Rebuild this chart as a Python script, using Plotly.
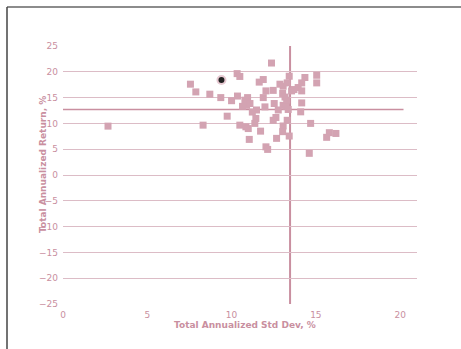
import plotly.graph_objects as go

# Risk (x) / return (y) pairs
std_dev = [12.37, 10.33, 10.49, 7.56, 7.88, 8.71, 9.36, 10.0, 10.35, 10.95, 10.79, 10.65,
           10.89, 11.09, 11.23, 9.74, 11.44, 11.38, 10.49, 10.85, 10.99, 11.05, 11.72,
           12.04, 12.14, 12.67, 11.64, 11.88, 11.88, 12.04, 12.47, 11.98, 12.53, 12.77,
           12.63, 12.47, 13.06, 13.03, 13.17, 13.06, 13.22, 13.3, 13.06, 13.03, 13.42,
           13.42, 13.56, 13.7, 13.95, 14.16, 14.35, 14.16, 14.16, 14.1, 15.05, 15.05,
           14.69, 14.61, 15.8, 15.64, 16.19, 2.67, 8.31, 13.3, 12.87, 11.48, 13.36, 13.27]
ann_return = [21.7, 19.65, 19.1, 17.6, 16.1, 15.66, 15.0, 14.4, 15.3, 15.0, 14.5, 13.3,
              13.5, 13.85, 12.2, 11.4, 10.96, 10.0, 9.66, 9.34, 9.0, 6.9, 8.5,
              5.46, 4.96, 7.1, 18.0, 18.5, 15.0, 16.3, 16.4, 13.2, 13.85, 12.6,
              11.15, 10.6, 17.2, 15.8, 15.1, 13.5, 13.3, 10.6, 9.5, 8.4, 7.55,
              19.14, 16.3, 16.56, 16.95, 17.85, 18.9, 16.3, 13.97, 12.24, 17.85, 19.33,
              10.0, 4.2, 8.2, 7.3, 8.05, 9.47, 9.66, 17.85, 17.6, 12.6, 12.7, 14.5]

highlight_x = [9.4]
highlight_y = [18.4]

avg_std = 13.47
avg_ret = 12.7

x_ticks = [0, 5, 10, 15, 20]
y_ticks = [25, 20, 15, 10, 5, 0, -5, -10, -15, -20, -25]

x_title = "Total Annualized Std Dev, %"
y_title = "Total Annualized Return, %"

pink = "#c98fa0"
marker_pink = "#d3a3b2"
grid_pink = "#dcbcc6"

W, H = 461, 349
ML, MR, MT, MB = 63, 44, 46, 45
PW, PH = W - ML - MR, H - MT - MB

fig = go.Figure()
fig.add_trace(go.Scatter(
    x=std_dev, y=ann_return, mode="markers",
    marker=dict(symbol="square", size=7, color=marker_pink, line=dict(width=0)),
    showlegend=False, hoverinfo="skip"))
fig.add_trace(go.Scatter(
    x=highlight_x, y=highlight_y, mode="markers",
    marker=dict(symbol="circle", size=8, color="#222222", line=dict(width=2, color="#e7c9d2")),
    showlegend=False, hoverinfo="skip"))

# average cross lines
fig.add_shape(type="line", x0=0, x1=20.2, y0=avg_ret, y1=avg_ret,
              line=dict(color=pink, width=1.5), layer="below")
fig.add_shape(type="line", x0=avg_std, x1=avg_std, y0=-25, y1=25,
              line=dict(color=pink, width=2), layer="below")

# page frame (top and left edges)
fx = -(ML - 7) / PW
fy = 1 + (MT - 7) / PH
fig.add_shape(type="line", xref="paper", yref="paper", x0=fx, x1=(W - ML) / PW,
              y0=fy, y1=fy, line=dict(color="#666666", width=1.5))
fig.add_shape(type="line", xref="paper", yref="paper", x0=fx, x1=fx,
              y0=fy, y1=-MB / PH, line=dict(color="#444444", width=1.5))

# axis titles
fig.add_annotation(text="<b>" + x_title + "</b>", xref="paper", yref="paper",
                   x=(245 - ML) / PW, y=-(325 - (MT + PH)) / PH, showarrow=False,
                   xanchor="center", yanchor="middle", font=dict(size=9, color=pink))
fig.add_annotation(text="<b>" + y_title + "</b>", xref="paper", yref="paper",
                   x=(43 - ML) / PW, y=1 - (165 - MT) / PH, showarrow=False, textangle=-90,
                   xanchor="center", yanchor="middle", font=dict(size=9, color=pink))

fig.update_layout(
    width=W, height=H,
    margin=dict(l=ML, r=MR, t=MT, b=MB),
    paper_bgcolor="white", plot_bgcolor="white",
    font=dict(family="DejaVu Sans", size=9, color=pink),
    xaxis=dict(range=[0, 21], tickvals=x_ticks, showgrid=False, zeroline=False,
               showline=False, ticks="", automargin=False, ticklabelstandoff=4),
    yaxis=dict(range=[-25, 25], tickvals=y_ticks, showgrid=True, gridcolor=grid_pink,
               gridwidth=1, zeroline=False, showline=False, ticks="", automargin=False,
               ticklabelstandoff=4),
)

fig.write_html("out.html", config={"displayModeBar": False},
               post_script="document.body.style.margin='0px';")
